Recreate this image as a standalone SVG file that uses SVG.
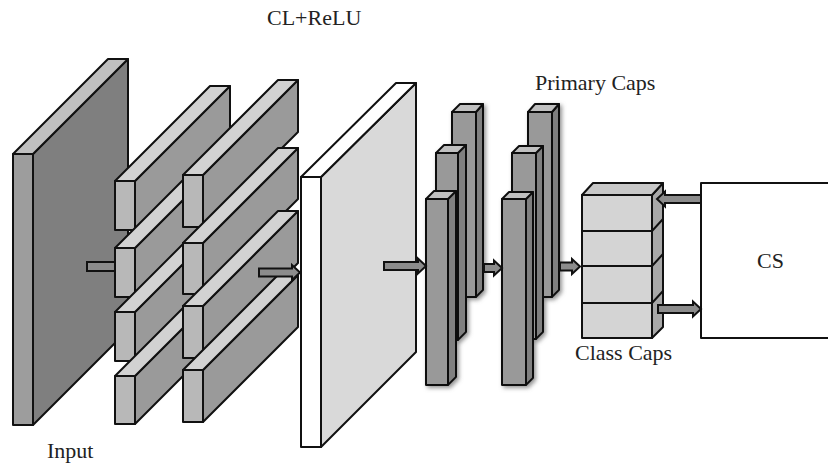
<svg xmlns="http://www.w3.org/2000/svg" width="828" height="463" viewBox="0 0 828 463">
<defs>
<filter id="sh" x="-30%" y="-10%" width="160%" height="120%">
<feDropShadow dx="2" dy="2" stdDeviation="2" flood-color="#777" flood-opacity="0.8"/>
</filter>
</defs>
<style>
.o{stroke:#111;stroke-width:2;stroke-linejoin:round}
.lbl{font-family:"Liberation Serif","Times New Roman",serif;font-size:22px;fill:#222}
.arr{fill:#8c8c8c;stroke:#111;stroke-width:2;stroke-linejoin:miter}
</style>
<rect width="828" height="463" fill="#fff"/>

<g id="input">
<polygon class="o" fill="#7f7f7f" points="33,154 128,59 128,330 33,425"/>
<polygon class="o" fill="#c0c0c0" points="13,154 33,154 128,59 108,59"/>
<rect class="o" fill="#9d9d9d" x="13" y="154" width="20" height="271"/>
</g>

<g id="conv1">
<g id="c1b1"><polygon class="o" fill="#9a9a9a" points="135,181 230,86 230,135 135,230"/><polygon class="o" fill="#d2d2d2" points="115,181 135,181 230,86 210,86"/><rect class="o" fill="#b8b8b8" x="115" y="181" width="20" height="49"/></g>
<g id="c1b2"><polygon class="o" fill="#9a9a9a" points="135,248 230,153 230,202 135,297"/><polygon class="o" fill="#d2d2d2" points="115,248 135,248 230,153 210,153"/><rect class="o" fill="#b8b8b8" x="115" y="248" width="20" height="49"/></g>
<g id="c1b3"><polygon class="o" fill="#9a9a9a" points="135,312 230,217 230,266 135,361"/><polygon class="o" fill="#d2d2d2" points="115,312 135,312 230,217 210,217"/><rect class="o" fill="#b8b8b8" x="115" y="312" width="20" height="49"/></g>
<g id="c1b4"><polygon class="o" fill="#9a9a9a" points="135,376 230,281 230,329 135,424"/><polygon class="o" fill="#d2d2d2" points="115,376 135,376 230,281 210,281"/><rect class="o" fill="#b8b8b8" x="115" y="376" width="20" height="48"/></g>
</g>

<g id="conv2">
<g id="c2b1"><polygon class="o" fill="#9a9a9a" points="203,175 298,80 298,132 203,227"/><polygon class="o" fill="#d2d2d2" points="183,175 203,175 298,80 278,80"/><rect class="o" fill="#b8b8b8" x="183" y="175" width="20" height="52"/></g>
<g id="c2b2"><polygon class="o" fill="#9a9a9a" points="203,243 298,148 298,199 203,294"/><polygon class="o" fill="#d2d2d2" points="183,243 203,243 298,148 278,148"/><rect class="o" fill="#b8b8b8" x="183" y="243" width="20" height="51"/></g>
<g id="c2b3"><polygon class="o" fill="#9a9a9a" points="203,306 298,211 298,263 203,358"/><polygon class="o" fill="#d2d2d2" points="183,306 203,306 298,211 278,211"/><rect class="o" fill="#b8b8b8" x="183" y="306" width="20" height="52"/></g>
<g id="c2b4"><polygon class="o" fill="#9a9a9a" points="203,370 298,275 298,327 203,422"/><polygon class="o" fill="#d2d2d2" points="183,370 203,370 298,275 278,275"/><rect class="o" fill="#b8b8b8" x="183" y="370" width="20" height="52"/></g>
</g>

<g id="clrelu">
<polygon class="o" fill="#d9d9d9" points="321,177 416,83 416,352 321,447"/>
<polygon class="o" fill="#fff" points="301,177 321,177 416,83 396,83"/>
<rect class="o" fill="#fff" x="301" y="177" width="20" height="270"/>
</g>

<g id="primary1" filter="url(#sh)">
<g><polygon class="o" fill="#808080" points="476,112 483,104 483,290 476,297"/><polygon class="o" fill="#c0c0c0" points="452,112 460,104 483,104 476,112"/><rect class="o" fill="#999" x="452" y="112" width="24" height="185"/></g>
<g><polygon class="o" fill="#808080" points="458,153 466,145 466,332 458,340"/><polygon class="o" fill="#c0c0c0" points="436,153 444,145 466,145 458,153"/><rect class="o" fill="#999" x="436" y="153" width="22" height="187"/></g>
<g><polygon class="o" fill="#808080" points="448,199 456,191 456,377 448,385"/><polygon class="o" fill="#c0c0c0" points="426,199 434,191 456,191 448,199"/><rect class="o" fill="#999" x="426" y="199" width="22" height="186"/></g>
</g>

<g id="primary2" filter="url(#sh)">
<g><polygon class="o" fill="#808080" points="552,112 559,104 559,290 552,297"/><polygon class="o" fill="#c0c0c0" points="528,112 535,104 559,104 552,112"/><rect class="o" fill="#999" x="528" y="112" width="24" height="185"/></g>
<g><polygon class="o" fill="#808080" points="536,153 543,146 543,332 536,339"/><polygon class="o" fill="#c0c0c0" points="512,153 519,146 543,146 536,153"/><rect class="o" fill="#999" x="512" y="153" width="24" height="186"/></g>
<g><polygon class="o" fill="#808080" points="526,199 533,192 533,378 526,385"/><polygon class="o" fill="#c0c0c0" points="502,199 509,192 533,192 526,199"/><rect class="o" fill="#999" x="502" y="199" width="24" height="186"/></g>
</g>

<g id="classcaps">
<polygon class="o" fill="#a8a8a8" points="652,195 663,183 663,327 652,338"/>
<polygon class="o" fill="#c8c8c8" points="582,195 593,183 663,183 652,195"/>
<rect class="o" fill="#d4d4d4" x="582" y="195" width="70" height="143"/>
<path class="o" fill="none" d="M582,231 H652 L663,219 M582,266 H652 L663,254 M582,303 H652 L663,291"/>
</g>

<g id="cs">
<rect class="o" fill="#fff" x="701" y="183" width="140" height="155"/>
<text class="lbl" x="757" y="268">CS</text>
</g>

<g id="connectors">
<path class="arr" d="M87,262 H115 V271 H87 Z"/>
<path class="arr" d="M259,268.5 H292 V265 L300,272.5 L292,280 V276.5 H259 Z"/>
<path class="arr" d="M384,262 H418 V258.5 L426,266 L418,273.5 V270 H384 Z"/>
<path class="arr" d="M484,264 H494 V260.5 L502,268 L494,275.5 V272 H484 Z"/>
<path class="arr" d="M560,262.5 H572 V259 L580,266.5 L572,274 V270.5 H560 Z"/>
<path class="arr" d="M701,195 H665 V191.5 L657,199 L665,206.5 V203 H701 Z"/>
<path class="arr" d="M658,305 H693 V301.5 L701,309 L693,316.5 V313 H658 Z"/>
</g>

<g id="labels">
<text class="lbl" x="267" y="25">CL+ReLU</text>
<text class="lbl" x="535" y="90">Primary Caps</text>
<text class="lbl" x="47" y="458">Input</text>
<text class="lbl" x="575" y="360">Class Caps</text>
</g>
</svg>
